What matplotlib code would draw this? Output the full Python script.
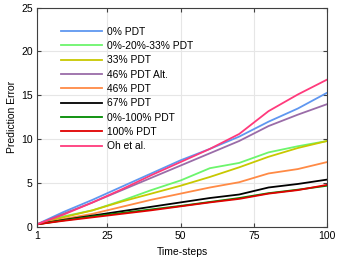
import numpy as np
import matplotlib.pyplot as plt

plt.rcParams['font.family'] = ['Liberation Sans', 'DejaVu Sans']

steps = [1, 10, 20, 30, 40, 50, 60, 70, 80, 90, 100]

pdt_0 = [0.3, 1.7, 3.1, 4.6, 6.1, 7.6, 8.9, 10.3, 12.0, 13.5, 15.3]
pdt_0_20_33 = [0.3, 1.2, 1.9, 3.0, 4.2, 5.3, 6.7, 7.3, 8.5, 9.2, 9.8]
pdt_33 = [0.3, 1.1, 1.9, 2.9, 3.8, 4.7, 5.7, 6.8, 8.0, 9.0, 9.8]
pdt_46_alt = [0.3, 1.5, 2.8, 4.2, 5.6, 7.0, 8.4, 9.8, 11.5, 12.8, 14.0]
pdt_46 = [0.3, 0.9, 1.5, 2.3, 3.1, 3.8, 4.5, 5.1, 6.1, 6.6, 7.4]
pdt_67 = [0.3, 0.8, 1.3, 1.8, 2.3, 2.8, 3.3, 3.7, 4.5, 4.9, 5.4]
pdt_0_100 = [0.3, 0.75, 1.2, 1.6, 2.0, 2.4, 2.85, 3.3, 3.85, 4.25, 4.7]
pdt_100 = [0.3, 0.7, 1.1, 1.5, 1.9, 2.35, 2.8, 3.2, 3.8, 4.2, 4.8]
oh_et_al = [0.3, 1.4, 2.8, 4.3, 5.9, 7.4, 8.9, 10.6, 13.2, 15.1, 16.8]

series = [
    ("0% PDT", pdt_0, "#5f97f0"),
    ("0%-20%-33% PDT", pdt_0_20_33, "#6cf56c"),
    ("33% PDT", pdt_33, "#c8c800"),
    ("46% PDT Alt.", pdt_46_alt, "#9a6ca8"),
    ("46% PDT", pdt_46, "#ff8a45"),
    ("67% PDT", pdt_67, "#000000"),
    ("0%-100% PDT", pdt_0_100, "#008a00"),
    ("100% PDT", pdt_100, "#e00000"),
    ("Oh et al.", oh_et_al, "#ff3a7c"),
]

fig = plt.figure(figsize=(3.39, 2.63), dpi=100)
ax = fig.add_axes([0.109, 0.137, 0.856, 0.834])

for name, vals, col in series:
    ax.plot(steps, vals, color=col, lw=1.3, label=name)

ax.set_xlim(1, 100)
ax.set_ylim(0, 25)
ax.set_xticks([1, 25, 50, 75, 100])
ax.set_yticks([0, 5, 10, 15, 20, 25])
ax.grid(True, color="#e6e6e6", lw=0.8)
ax.set_axisbelow(True)
ax.tick_params(direction="in", top=True, right=True, labelsize=7.5, length=3,
               color="#404040", pad=3)
for s in ax.spines.values():
    s.set_color("#404040")
    s.set_linewidth(0.8)

ax.set_xlabel("Time-steps", fontsize=7.5, labelpad=4)
ax.set_ylabel("Prediction Error", fontsize=7.5, labelpad=3)

ax.legend(loc="upper left", frameon=False, fontsize=7.4, handlelength=4.0,
          labelspacing=0.42, handletextpad=0.5, bbox_to_anchor=(0.05, 0.955))

fig.savefig("out.png", dpi=100)
